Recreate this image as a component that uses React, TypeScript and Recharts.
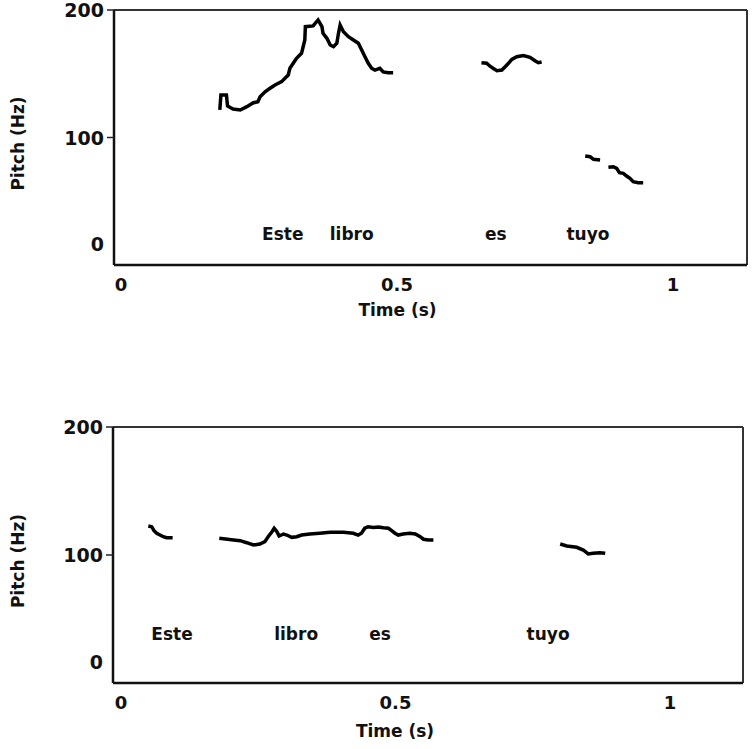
import { LineChart, Line, XAxis, YAxis, ReferenceDot, ReferenceLine } from "recharts";

// top panel: pitch track, one array pair per voiced stretch
const topTime1 = [0.179, 0.181, 0.191, 0.193, 0.203, 0.216, 0.228, 0.239, 0.248, 0.252, 0.261, 0.27, 0.279, 0.291, 0.297, 0.303, 0.306, 0.312, 0.318, 0.327, 0.33, 0.333, 0.334, 0.348, 0.357, 0.364, 0.366, 0.373, 0.379, 0.385, 0.391, 0.394, 0.397, 0.403, 0.412, 0.421, 0.43, 0.436, 0.442, 0.448, 0.454, 0.46, 0.469, 0.475, 0.484, 0.493];
const topPitch1 = [121.6, 133.3, 133.3, 124.7, 122.4, 121.6, 124.2, 127.1, 128.1, 132.0, 135.9, 138.6, 141.2, 143.8, 146.4, 149.0, 154.3, 158.2, 162.1, 166.0, 171.2, 176.5, 186.9, 187.5, 192.2, 186.9, 181.7, 177.8, 172.5, 171.2, 173.9, 181.7, 188.2, 183.0, 179.1, 176.5, 173.9, 168.6, 163.4, 158.2, 154.3, 152.9, 154.3, 151.4, 150.8, 150.8];
const topTime2 = [0.653, 0.6625, 0.668, 0.674, 0.681, 0.69, 0.696, 0.702, 0.708, 0.717, 0.729, 0.741, 0.75, 0.756, 0.762];
const topPitch2 = [158.7, 158.2, 156.1, 154.3, 152.4, 152.9, 155.5, 158.2, 161.3, 163.4, 164.2, 162.9, 160.2, 158.7, 159.2];
const topTime3 = [0.841, 0.85, 0.856, 0.868];
const topPitch3 = [85.5, 84.9, 82.9, 82.4];
const topTime4 = [0.883, 0.892, 0.898, 0.903, 0.91, 0.916, 0.922, 0.928, 0.937, 0.946];
const topPitch4 = [76.6, 77.1, 75.8, 72.4, 71.9, 69.8, 68.0, 65.3, 64.5, 64.5];

// bottom panel
const botTime1 = [0.0497, 0.0559, 0.0601, 0.065, 0.071, 0.077, 0.083, 0.094];
const botPitch1 = [122.7, 122.1, 119.0, 117.0, 115.6, 114.3, 113.5, 113.5];
const botTime2 = [0.179, 0.205, 0.217, 0.229, 0.241, 0.253, 0.262, 0.268, 0.275, 0.279, 0.284, 0.288, 0.296, 0.302, 0.311, 0.32, 0.329, 0.344, 0.362, 0.381, 0.405, 0.423, 0.432, 0.438, 0.444, 0.45, 0.46, 0.469, 0.478, 0.487, 0.493, 0.499, 0.505, 0.514, 0.526, 0.536, 0.545, 0.551, 0.56, 0.569];
const botPitch2 = [113.0, 111.7, 111.2, 109.6, 107.8, 108.6, 110.4, 114.3, 118.2, 120.9, 118.2, 114.8, 116.4, 115.6, 113.8, 114.3, 115.6, 116.4, 117.0, 117.7, 117.7, 117.0, 115.6, 117.0, 120.9, 122.1, 121.5, 121.9, 121.3, 120.9, 119.0, 117.0, 115.6, 116.4, 117.0, 116.4, 114.3, 112.3, 111.7, 111.7];
const botTime3 = [0.8, 0.812, 0.83, 0.842, 0.851, 0.86, 0.872, 0.882];
const botPitch3 = [108.6, 107.0, 106.0, 103.9, 100.8, 101.3, 101.8, 101.3];

const words = ["Este", "libro", "es", "tuyo"];
const topWordTime = [0.293, 0.418, 0.679, 0.846];
const topWordPitch = [24.7, 24.7, 24.7, 24.7];
const botWordTime = [0.093, 0.319, 0.472, 0.778];
const botWordPitch = [38.3, 38.3, 38.3, 38.3];

const xTicks = [0, 0.5, 1];
const yTicks = [0, 100, 200];
const Y_MAX = 200;

const FONT = "'DejaVu Sans', sans-serif";
const INK = "#111";

type Seg = [number[], number[]];

// join stretches, with a null row between them so the line breaks
function buildRows(segs: Seg[]) {
    const rows: { time: number; pitch: number | null }[] = [];
    segs.forEach(([t, p], i) => {
        if (i > 0) rows.push({ time: (rows[rows.length - 1].time + t[0]) / 2, pitch: null });
        t.forEach((v, j) => rows.push({ time: v, pitch: p[j] }));
    });
    return rows;
}

const topRows = buildRows([[topTime1, topPitch1], [topTime2, topPitch2], [topTime3, topPitch3], [topTime4, topPitch4]]);
const botRows = buildRows([[botTime1, botPitch1], [botTime2, botPitch2], [botTime3, botPitch3]]);

const XTick = (props: any) => {
    const { x, y, payload } = props;
    return (
        <text x={x} y={y + 18} textAnchor="middle" fontSize={18} fontWeight="bold" fill={INK} fontFamily={FONT}>
            {payload.value}
        </text>
    );
};

const YTick = (props: any) => {
    const { x, y, payload } = props;
    const isZero = payload.value === 0;
    return (
        <g>
            {!isZero && <line x1={x + 2} x2={x + 9} y1={y} y2={y} stroke="#222" strokeWidth={1.5} />}
            <text x={x - 1} y={isZero ? y - 14 : y + 7} textAnchor="end" fontSize={19} fontWeight="bold" fill={INK} fontFamily={FONT}>
                {payload.value}
            </text>
        </g>
    );
};

const YTitle = (props: any) => {
    const vb = props.viewBox;
    const cx = 18;
    const cy = vb.y + vb.height / 2 + 6;
    return (
        <text x={cx} y={cy} transform={`rotate(-90, ${cx}, ${cy})`} textAnchor="middle" dominantBaseline="central" fontSize={17} fontWeight="bold" fill={INK} fontFamily={FONT}>
            Pitch (Hz)
        </text>
    );
};

const XTitle = (props: any) => {
    const vb = props.viewBox;
    return (
        <text x={vb.x + vb.width / 2 - 33} y={vb.y + props.gap} textAnchor="middle" fontSize={17} fontWeight="bold" fill={INK} fontFamily={FONT}>
            Time (s)
        </text>
    );
};

function PitchPanel({ rows, domain, wordTime, wordPitch, width, height, margin, yWidth, titleGap }: any) {
    return (
        <LineChart width={width} height={height} data={rows} margin={margin}>
            {/* frame: top and right edges */}
            <ReferenceLine y={Y_MAX} stroke="#333" strokeWidth={2} />
            <ReferenceLine x={domain[1]} stroke="#333" strokeWidth={2} />
            <XAxis
                dataKey="time"
                type="number"
                domain={domain}
                ticks={xTicks}
                allowDataOverflow
                height={50}
                tickLine={false}
                tickSize={6}
                tickMargin={2}
                axisLine={{ stroke: "#111", strokeWidth: 2.5 }}
                tick={<XTick />}
                label={<XTitle gap={titleGap} />}
            />
            <YAxis
                type="number"
                domain={[0, Y_MAX]}
                ticks={yTicks}
                width={yWidth}
                tickLine={false}
                tickSize={7}
                tickMargin={2}
                axisLine={{ stroke: "#111", strokeWidth: 2.5 }}
                tick={<YTick />}
                label={<YTitle />}
            />
            <Line
                type="linear"
                dataKey="pitch"
                stroke="#000"
                strokeWidth={3.5}
                dot={false}
                connectNulls={false}
                isAnimationActive={false}
            />
            {words.map((w, i) => (
                <ReferenceDot
                    key={w}
                    x={wordTime[i]}
                    y={wordPitch[i]}
                    r={0}
                    fill="none"
                    stroke="none"
                    label={{ value: w, position: "center", fill: INK, fontSize: 17, fontWeight: "bold", fontFamily: FONT }}
                />
            ))}
        </LineChart>
    );
}

export default function App() {
    return (
        <div style={{ position: "absolute", left: 0, top: 0, width: 754, height: 749, background: "#fff", fontFamily: FONT }}>
            <div style={{ position: "absolute", left: 0, top: 0 }}>
                <PitchPanel
                    rows={topRows}
                    domain={[-0.0127, 1.1341]}
                    wordTime={topWordTime}
                    wordPitch={topWordPitch}
                    width={754}
                    height={330}
                    margin={{ top: 10, right: 7, bottom: 15, left: 0 }}
                    yWidth={114}
                    titleGap={51}
                />
            </div>
            <div style={{ position: "absolute", left: 0, top: 330 }}>
                <PitchPanel
                    rows={botRows}
                    domain={[-0.0146, 1.133]}
                    wordTime={botWordTime}
                    wordPitch={botWordPitch}
                    width={754}
                    height={419}
                    margin={{ top: 97, right: 11, bottom: 16, left: 0 }}
                    yWidth={113}
                    titleGap={54}
                />
            </div>
        </div>
    );
}
